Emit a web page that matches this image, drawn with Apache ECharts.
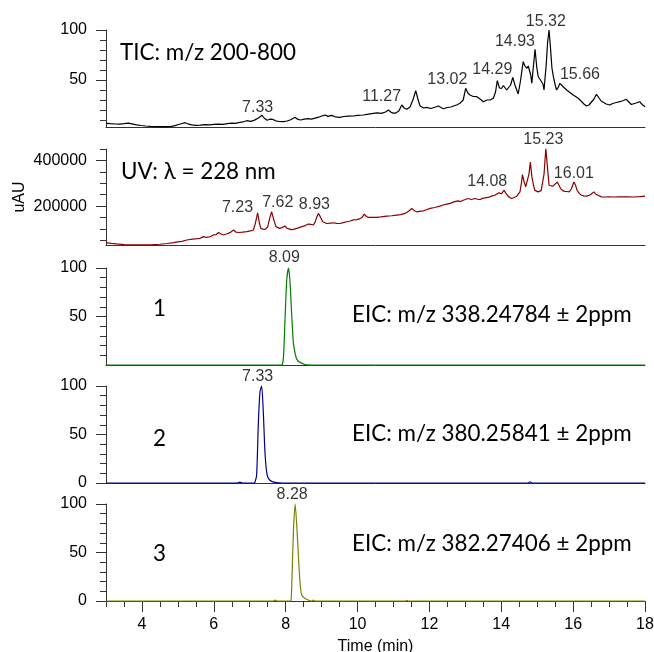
<!DOCTYPE html>
<html><head><meta charset="utf-8">
<script src="https://cdn.jsdelivr.net/npm/echarts@6/dist/echarts.min.js"></script>
<style>html,body{margin:0;padding:0;background:#fff}#c{width:654px;height:652px}</style>
</head><body><div id="c"></div>
<script>
// ---- Data ----
const ticData = [[3.00,6.7],[3.12,6.3],[3.25,6.0],[3.38,5.9],[3.50,6.3],[3.62,6.8],[3.72,6.2],[3.85,5.2],[3.98,4.5],[4.10,4.0],[4.25,3.6],[4.40,3.3],[4.55,3.4],[4.70,3.3],[4.82,3.6],[4.92,4.4],[5.02,5.5],[5.12,6.5],[5.20,7.3],[5.28,6.2],[5.38,5.2],[5.50,4.6],[5.62,4.8],[5.75,5.3],[5.88,5.1],[6.00,5.6],[6.12,5.9],[6.25,5.7],[6.38,6.4],[6.50,6.9],[6.60,6.6],[6.72,7.6],[6.82,8.2],[6.92,9.3],[7.02,8.6],[7.12,9.6],[7.22,11.5],[7.28,13.0],[7.34,14.7],[7.40,12.0],[7.48,9.8],[7.56,10.8],[7.64,10.6],[7.72,9.2],[7.82,8.5],[7.94,8.3],[8.04,9.0],[8.14,10.2],[8.26,12.7],[8.34,10.6],[8.42,10.0],[8.52,10.8],[8.62,11.3],[8.72,10.8],[8.82,11.8],[8.92,12.8],[9.02,14.2],[9.10,15.0],[9.18,13.6],[9.28,14.6],[9.38,13.2],[9.51,12.7],[9.62,13.5],[9.75,13.8],[9.88,14.0],[10.00,14.6],[10.16,15.0],[10.30,15.8],[10.44,16.7],[10.55,17.2],[10.66,16.6],[10.78,18.0],[10.86,20.0],[10.95,17.3],[11.05,16.7],[11.15,19.0],[11.23,25.0],[11.30,22.0],[11.37,20.7],[11.46,23.0],[11.54,30.0],[11.62,39.3],[11.68,31.0],[11.74,24.0],[11.84,22.0],[11.92,22.7],[12.04,21.5],[12.15,22.8],[12.25,24.0],[12.32,22.5],[12.39,21.3],[12.50,22.5],[12.60,23.0],[12.67,24.0],[12.76,25.0],[12.85,26.7],[12.94,30.0],[13.01,41.7],[13.07,37.0],[13.13,35.0],[13.22,33.5],[13.32,33.3],[13.41,31.0],[13.50,28.3],[13.60,30.0],[13.69,30.0],[13.78,31.7],[13.84,38.0],[13.89,49.3],[13.95,42.0],[14.01,41.7],[14.06,44.5],[14.10,44.0],[14.15,40.0],[14.20,38.3],[14.26,45.0],[14.32,52.7],[14.38,45.0],[14.43,40.0],[14.47,36.0],[14.53,48.0],[14.61,68.3],[14.66,64.0],[14.71,61.7],[14.75,64.0],[14.78,63.3],[14.82,55.0],[14.85,46.7],[14.89,62.0],[14.94,80.7],[14.99,62.0],[15.03,53.3],[15.08,50.5],[15.12,51.7],[15.16,46.0],[15.19,40.0],[15.25,65.0],[15.29,88.0],[15.33,100],[15.37,82.0],[15.41,62.0],[15.45,53.3],[15.50,45.0],[15.54,40.0],[15.59,43.0],[15.63,46.7],[15.68,45.0],[15.73,43.0],[15.82,40.0],[15.91,37.5],[16.00,35.0],[16.07,33.5],[16.14,31.7],[16.22,29.0],[16.30,26.0],[16.37,24.0],[16.44,25.0],[16.51,28.0],[16.58,31.0],[16.65,35.7],[16.72,32.0],[16.78,29.0],[16.83,28.3],[16.92,26.0],[17.02,25.0],[17.10,26.5],[17.20,27.5],[17.30,28.3],[17.40,29.5],[17.48,30.7],[17.55,28.0],[17.62,25.5],[17.67,25.0],[17.75,27.0],[17.85,28.3],[17.92,25.5],[18.00,23.3]];

const uvData = [[3.00,40600],[3.15,37500],[3.30,34800],[3.50,32000],[3.77,30400],[4.05,30400],[4.30,31500],[4.50,33300],[4.70,36500],[4.88,40600],[5.00,44000],[5.11,46000],[5.25,52000],[5.40,55500],[5.55,58000],[5.62,59400],[5.71,66700],[5.80,63000],[5.90,66000],[5.99,73900],[6.06,75000],[6.13,84600],[6.20,78000],[6.27,73900],[6.35,78000],[6.45,84000],[6.55,95700],[6.62,86000],[6.69,84600],[6.80,86000],[6.92,88400],[7.02,92000],[7.10,95700],[7.15,120000],[7.22,171000],[7.27,125000],[7.31,102900],[7.37,99500],[7.43,98600],[7.50,110000],[7.56,150000],[7.61,175300],[7.67,140000],[7.73,110200],[7.78,102000],[7.83,102900],[7.90,106000],[7.98,113100],[8.03,104000],[8.08,98600],[8.15,97500],[8.22,98600],[8.33,104000],[8.45,110200],[8.55,115000],[8.63,121700],[8.70,120000],[8.77,117400],[8.82,130000],[8.86,150000],[8.91,168200],[8.96,155000],[9.03,131700],[9.08,127000],[9.14,124000],[9.25,126000],[9.33,127400],[9.42,125000],[9.51,124000],[9.60,128000],[9.70,131700],[9.80,135000],[9.88,140000],[9.93,146300],[9.98,141000],[10.05,144000],[10.12,150000],[10.19,165200],[10.24,155000],[10.30,150800],[10.40,151500],[10.53,150800],[10.65,153000],[10.81,156500],[10.95,158000],[11.09,161000],[11.20,163000],[11.32,168200],[11.42,178000],[11.51,190000],[11.58,180000],[11.65,175300],[11.75,178000],[11.83,179500],[11.92,184000],[12.02,190000],[12.15,194000],[12.29,200000],[12.38,205000],[12.48,208600],[12.58,212000],[12.66,217400],[12.73,221000],[12.80,223200],[12.87,220000],[12.94,226000],[13.00,229000],[13.08,233300],[13.13,230000],[13.17,229000],[13.22,232000],[13.27,233300],[13.35,230000],[13.41,229000],[13.48,234000],[13.55,236200],[13.62,238000],[13.68,240500],[13.75,245000],[13.82,247700],[13.87,252000],[13.92,258000],[13.97,253000],[14.01,255000],[14.05,262000],[14.08,269600],[14.12,258000],[14.17,247700],[14.23,238000],[14.29,233300],[14.36,238000],[14.43,243500],[14.48,252000],[14.52,262400],[14.56,300000],[14.59,337700],[14.63,310000],[14.68,284000],[14.73,291300],[14.77,340000],[14.81,392800],[14.85,330000],[14.89,297800],[14.93,270000],[14.96,264800],[15.02,262400],[15.07,262400],[15.11,268000],[15.15,269600],[15.19,340000],[15.24,450700],[15.28,380000],[15.33,291300],[15.38,288000],[15.43,287000],[15.49,295000],[15.56,305700],[15.61,290000],[15.65,276900],[15.71,268000],[15.77,264800],[15.83,264000],[15.89,262400],[15.95,275000],[16.02,305700],[16.07,290000],[16.11,269600],[16.17,256000],[16.23,247700],[16.30,245000],[16.37,243500],[16.46,247700],[16.52,255000],[16.58,262400],[16.63,252000],[16.67,247700],[16.79,240500],[16.90,240000],[17.00,241000],[17.10,240000],[17.30,240500],[17.50,241000],[17.70,240000],[17.85,241500],[18.00,243500]];

const eic1Data = [[3,0],[7.88,0],[7.91,0.5],[7.94,8.6],[7.985,49.8],[8.03,87.6],[8.08,100],[8.124,84],[8.17,50],[8.216,22.3],[8.263,12],[8.31,5.8],[8.40,2.7],[8.54,0.5],[8.7,0],[18,0]];
const eic2Data = [[3,0],[6.66,0],[6.72,0.8],[6.8,0],[7.12,0],[7.146,1],[7.192,8],[7.238,59.7],[7.285,94],[7.331,100],[7.377,73.5],[7.424,32],[7.47,11.4],[7.516,5],[7.609,1.7],[7.75,0.3],[7.9,0],[14.74,0],[14.8,1.2],[14.86,0],[18,0]];
const eic3Data = [[3,0],[7.66,0],[7.71,1.0],[7.76,0],[8.13,0],[8.152,1],[8.18,28.4],[8.217,73.3],[8.263,100],[8.31,76.8],[8.356,45.6],[8.402,18],[8.449,5.9],[8.541,2.5],[8.68,0.3],[8.73,0],[8.77,0.8],[8.81,0],[11.34,0],[11.38,0.7],[11.42,0],[18,0]];

// peak labels: [text, time (label centre), value (label bottom)]
const ticLabels = [['7.33',7.22,14],['11.27',10.67,25.3],['13.02',12.50,42],['14.29',13.75,52],['14.93',14.38,80.3],['15.32',15.24,100.3],['15.66',16.19,47]];
const uvLabels = [['7.23',6.66,155300],['7.62',7.78,177000],['8.93',8.80,169600],['14.08',13.61,271000],['15.23',15.17,452000],['16.01',16.02,307400]];
const eic1Labels = [['8.09',7.96,102]];
const eic2Labels = [['7.33',7.22,101.4]];
const eic3Labels = [['8.28',8.18,101.4]];

// axis ticks
const xMajor = [4,6,8,10,12,14,16,18];
const xMinor = [3,3.5,4.5,5,5.5,6.5,7,7.5,8.5,9,9.5,10.5,11,11.5,12.5,13,13.5,14.5,15,15.5,16.5,17,17.5];
const yMin = [3, 30000, 0, 0, 0];
const yMax = [100, 450000, 100, 100, 100];
const yMajor = [[50,100],[200000,400000],[50,100],[0,50,100],[0,50,100]];
const yMinor = [[10,20,30,40,60,70,80,90],[50000,100000,150000,250000,300000,350000,450000],[10,20,30,40,60,70,80,90],[10,20,30,40,60,70,80,90],[10,20,30,40,60,70,80,90]];
const seriesNames = ['TIC','UV','EIC 1','EIC 2','EIC 3'];
const seriesColors = ['#000000','#8b0000','#008000','#00008b','#808000'];

// ---- Chart ----
const AX = '#333';
const TXT = '#000';
const NUMFONT = '"Liberation Sans", Arial, sans-serif';
const BIGFONT = 'Lato, "Open Sans", sans-serif';
const layout = [[30,97],[149,96],[268,97],[386,97],[504,97]];
const grid = layout.map(([top,h]) => ({left:106, right:9, top:top, height:h, outerBoundsMode:'none', containLabel:false}));

const xAxis = [];
for (let i = 0; i < 5; i++) {
  const last = i === 4;
  xAxis.push({
    type:'value', gridIndex:i, min:3, max:18, position:'bottom',
    axisLine:{show:true, onZero:false, lineStyle:{color:AX, width:1}},
    axisTick:{show:last, length:11, customValues:xMajor, lineStyle:{color:AX}},
    axisLabel:{show:last, customValues:xMajor, margin:16, fontSize:16, color:TXT, fontFamily:NUMFONT},
    splitLine:{show:false},
    name: last ? 'Time (min)' : '', nameLocation:'middle', nameGap:38,
    nameTextStyle:{fontSize:16, color:TXT, fontFamily:NUMFONT}
  });
}
xAxis.push({
  type:'value', gridIndex:4, min:3, max:18, position:'bottom',
  axisLine:{show:false}, axisTick:{show:true, length:6, customValues:xMinor, lineStyle:{color:AX}},
  axisLabel:{show:false}, splitLine:{show:false}
});

const yAxis = [];
for (let i = 0; i < 5; i++) {
  yAxis.push({
    type:'value', gridIndex:i, min:yMin[i], max:yMax[i], position:'left',
    axisLine:{show:true, onZero:false, lineStyle:{color:AX, width:1}},
    axisTick:{show:true, length:10, customValues:yMajor[i], lineStyle:{color:AX}},
    axisLabel:{show:true, customValues:yMajor[i], margin:19, fontSize:16, color:TXT, fontFamily:NUMFONT, formatter:v => String(v)},
    splitLine:{show:false},
    name: i === 1 ? 'uAU' : '', nameLocation:'middle', nameRotate:90, nameGap:78, nameMoveOverlap:false,
    nameTextStyle:{fontSize:16, color:TXT, fontFamily:NUMFONT}
  });
  yAxis.push({
    type:'value', gridIndex:i, min:yMin[i], max:yMax[i], position:'left',
    axisLine:{show:false}, axisTick:{show:true, length:6, customValues:yMinor[i], lineStyle:{color:AX}},
    axisLabel:{show:false}, splitLine:{show:false}
  });
}

const lineData = [ticData, uvData, eic1Data, eic2Data, eic3Data];
const labelData = [ticLabels, uvLabels, eic1Labels, eic2Labels, eic3Labels];
const series = [];
for (let i = 0; i < 5; i++) {
  series.push({
    type:'line', name:seriesNames[i], xAxisIndex:i, yAxisIndex:2*i, data:lineData[i],
    symbol:'none', smooth: i >= 2 ? 0.25 : false, clip:false,
    lineStyle:{color:seriesColors[i], width:1.2}, silent:true, z:3
  });
  series.push({
    type:'scatter', xAxisIndex:i, yAxisIndex:2*i, symbolSize:1, clip:false, silent:true,
    itemStyle:{color:'rgba(0,0,0,0)'},
    data: labelData[i].map(d => ({name:d[0], value:[d[1], d[2]]})),
    label:{show:true, position:'top', distance:0, formatter:'{b}', fontSize:16, color:TXT, fontFamily:NUMFONT}
  });
}

const bigText = (text, x, y) => ({type:'text', x:x, y:y, silent:true,
  style:{text:text, fontSize:22.4, fontFamily:BIGFONT, fill:TXT, align:'left', verticalAlign:'middle'}});
const graphic = [
  bigText('TIC: m/z 200-800', 120, 53),
  bigText('UV: \u03bb = 228 nm', 121, 171.5),
  bigText('1', 153, 308.5),
  bigText('EIC: m/z 338.24784 \u00b1 2ppm', 352, 315),
  bigText('2', 153, 438.5),
  bigText('EIC: m/z 380.25841 \u00b1 2ppm', 352, 434),
  bigText('3', 153, 553.5),
  bigText('EIC: m/z 382.27406 \u00b1 2ppm', 352, 543.5)
];

const chart = echarts.init(document.getElementById('c'), null, {renderer:'canvas'});
chart.setOption({animation:false, backgroundColor:'#fff', grid:grid, xAxis:xAxis, yAxis:yAxis, series:series, graphic:graphic});
</script></body></html>
